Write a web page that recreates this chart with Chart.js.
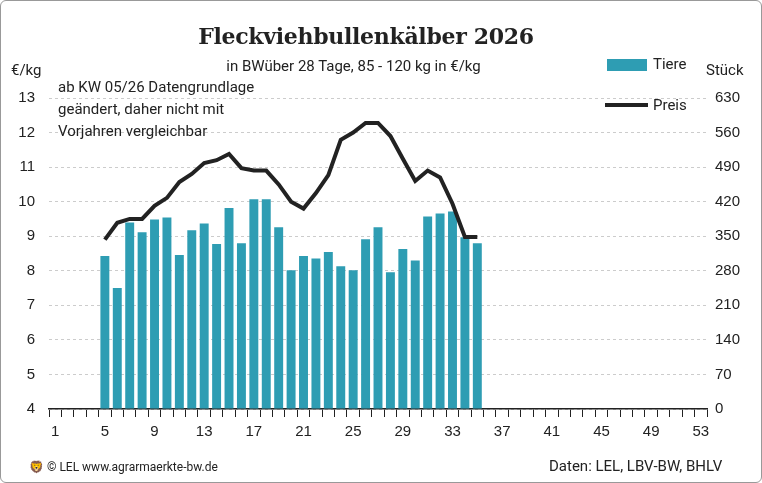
<!DOCTYPE html>
<html><head><meta charset="utf-8">
<script src="https://cdn.jsdelivr.net/npm/chart.js@4"></script>
<style>
body{margin:0;background:#fff;font-family:"Roboto","Liberation Sans",sans-serif;}
#wrap{position:relative;width:760px;height:481px;border:1px solid #999;border-radius:6px;overflow:hidden}
canvas{position:absolute;left:0;top:0}
.t{position:absolute;color:#222;white-space:nowrap}
</style></head><body>
<div id="wrap">
<canvas id="c" width="760" height="481"></canvas>
<div class="t" style="left:0;width:730px;text-align:center;top:22px;font:bold 22px 'DejaVu Serif',serif;letter-spacing:-0.3px">Fleckviehbullenkälber 2026</div>
<div class="t" style="left:0;width:705px;text-align:center;top:56px;font-size:15px">in BWüber 28 Tage, 85 - 120 kg in €/kg</div>
<div class="t" style="left:10px;top:60px;font-size:15px">€/kg</div>
<div class="t" style="left:705px;top:60px;font-size:15px">Stück</div>
<div class="t" style="left:57px;top:75px;font-size:15px;line-height:22px">ab KW 05/26 Datengrundlage<br>geändert, daher nicht mit<br>Vorjahren vergleichbar</div>
<div style="position:absolute;left:606px;top:58px;width:40px;height:12px;background:#2e9db3"></div>
<div class="t" style="left:652px;top:54px;font-size:15px">Tiere</div>
<div style="position:absolute;left:604px;top:102px;width:43px;height:4px;background:#222"></div>
<div class="t" style="left:652px;top:95px;font-size:15px">Preis</div>
<div class="t" style="left:28px;top:459px;font-size:12px">🦁 © LEL www.agrarmaerkte-bw.de</div>
<div class="t" style="left:548px;top:456px;font-size:15px">Daten: LEL, LBV-BW, BHLV</div>
</div>
<script>
const weeks=[];for(let i=1;i<=53;i++)weeks.push(String(i));
const tiere=[null,null,null,null,310,245,378,358,384,388,312,362,376,334,407,336,425,425,368,281,310,305,318,289,281,344,368,277,324,301,390,396,400,348,336];
const preis=[null,null,null,null,8.9,9.39,9.5,9.5,9.88,10.11,10.57,10.8,11.12,11.2,11.38,10.97,10.9,10.9,10.5,10.0,9.8,10.25,10.77,11.79,12.0,12.28,12.28,11.9,11.24,10.6,10.9,10.7,9.94,8.98,8.98];
const leftTicks=[4,5,6,7,8,9,10,11,12,13];
const rightTicks=[0,70,140,210,280,350,420,490,560,630];
new Chart(document.getElementById('c'),{
 data:{labels:weeks,datasets:[
  {type:'line',data:preis,yAxisID:'y',borderColor:'#222',borderWidth:4,pointRadius:0,tension:0,order:0},
  {type:'bar',data:tiere,yAxisID:'y2',backgroundColor:'#2e9db3',barPercentage:0.72,categoryPercentage:1,order:1}
 ]},
 options:{responsive:false,animation:false,
  layout:{padding:{top:97,bottom:35,left:4,right:8}},
  plugins:{legend:{display:false},tooltip:{enabled:false}},
  scales:{
   x:{grid:{drawOnChartArea:false,color:'#222',tickLength:8},border:{color:'#222',width:1.5},
      ticks:{autoSkip:false,maxRotation:0,color:'#222',font:{size:15},padding:6,callback:(v,i)=>i%4===0?weeks[i]:''}},
   y:{position:'left',min:4,max:13,afterFit:a=>{a.width=44},afterBuildTicks:a=>{a.ticks=leftTicks.map(v=>({value:v}))},
      grid:{color:'#ccc',drawTicks:false},border:{display:false,dash:[3,3]},
      ticks:{color:'#222',font:{size:15},padding:14}},
   y2:{position:'right',min:0,max:630,afterFit:a=>{a.width=46},afterBuildTicks:a=>{a.ticks=rightTicks.map(v=>({value:v}))},
      grid:{drawOnChartArea:false,drawTicks:false},border:{display:false},
      ticks:{color:'#222',font:{size:15},padding:8}}
  }}
});
</script></body></html>
